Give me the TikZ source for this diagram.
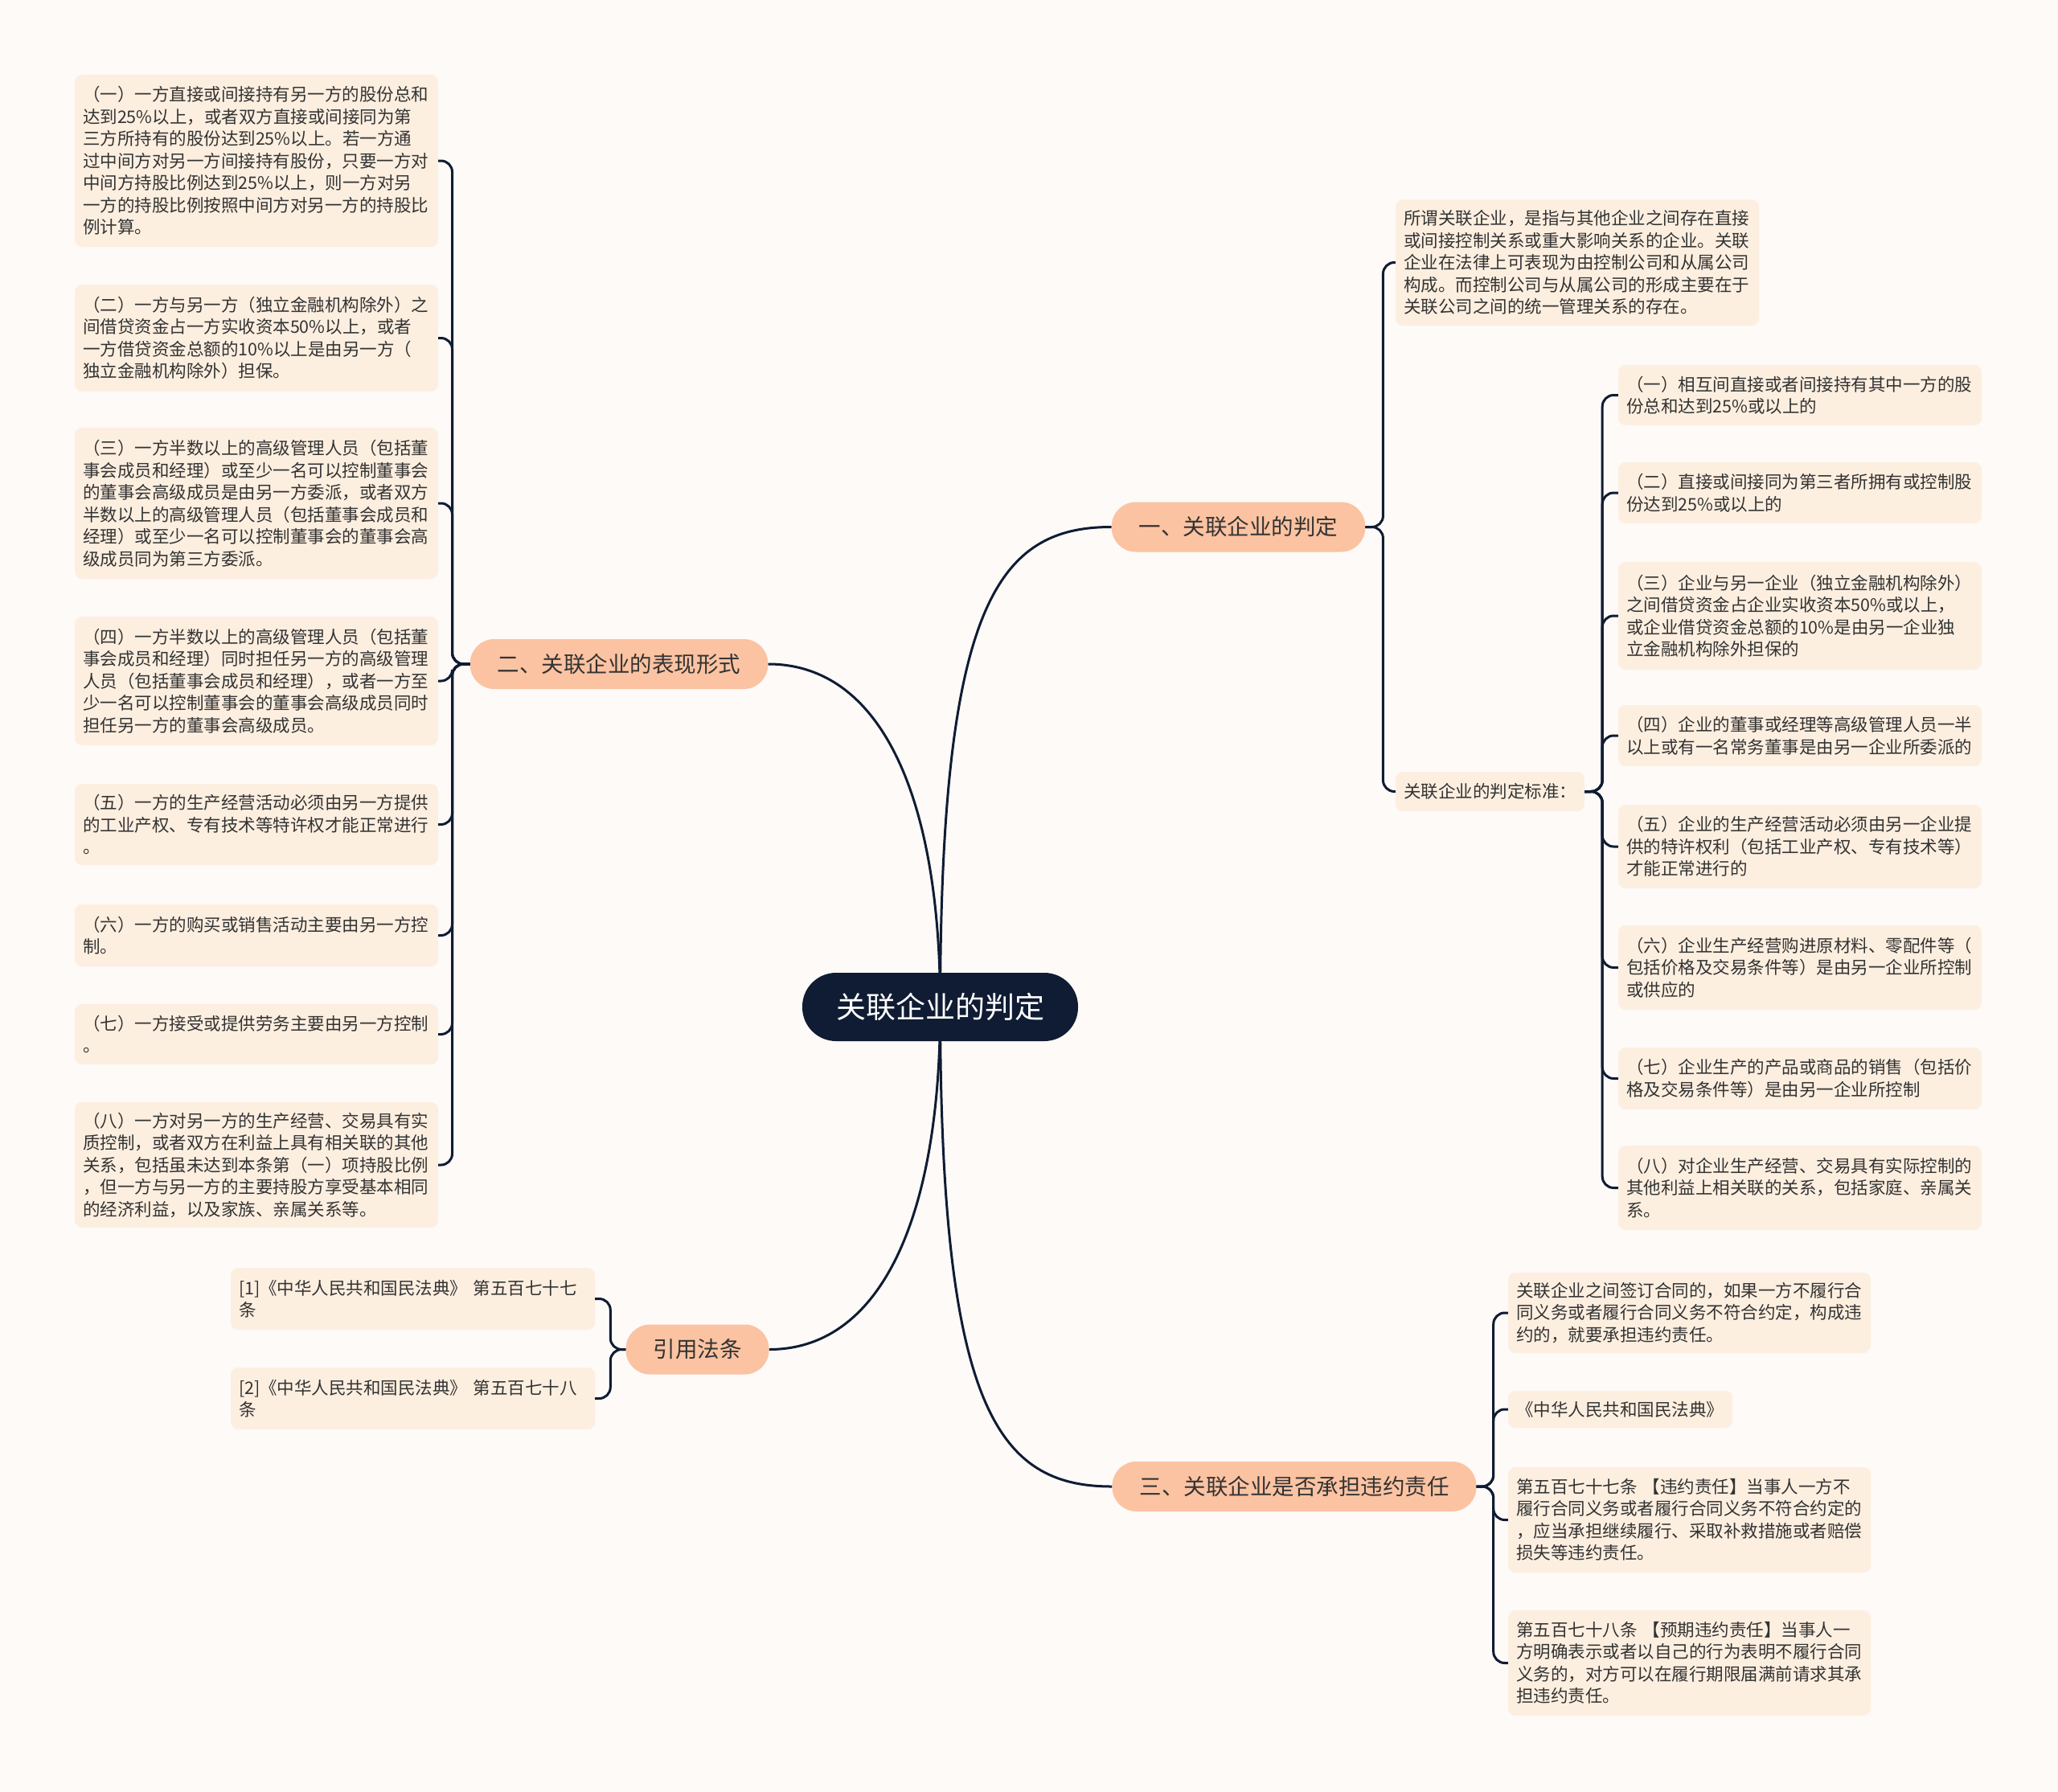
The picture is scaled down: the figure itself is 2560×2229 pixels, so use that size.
\documentclass[tikz,border=0pt]{standalone}
\usepackage{fontspec}
\setmainfont{Noto Sans CJK SC}
\definecolor{bgc}{HTML}{FDFAF8}
\definecolor{leafc}{HTML}{FDEFE0}
\definecolor{brc}{HTML}{FBC3A2}
\definecolor{rootc}{HTML}{0F1C33}
\definecolor{linec}{HTML}{0F1C33}
\definecolor{txtc}{HTML}{333333}
\pgfdeclarelayer{bg}
\pgfsetlayers{bg,main}
\newcommand{\leaffont}{\fontsize{21.5pt}{27.5pt}\selectfont}
\newcommand{\brfont}{\fontsize{27.5pt}{32pt}\selectfont}
\newcommand{\rootfont}{\fontsize{37pt}{42pt}\selectfont}
\tikzset{
  leaf/.style={fill=leafc, rounded corners=9pt, inner xsep=10pt, inner ysep=0pt, align=left, text=txtc, font=\leaffont, anchor=center},
  pill/.style={fill=brc, rounded corners=30pt, minimum height=62pt, inner xsep=34pt, inner ysep=0pt, text=txtc, font=\brfont, anchor=center},
  rootbox/.style={fill=rootc, rounded corners=42pt, minimum height=85pt, inner xsep=42pt, inner ysep=0pt, text=white, font=\rootfont, anchor=center},
  conn/.style={draw=linec, line width=3pt},
  brk/.style={draw=linec, line width=3pt, rounded corners=14pt}
}
\begin{document}
\begin{tikzpicture}[x=1pt,y=-1pt]
\useasboundingbox (0,0) rectangle (2560,2229);
\begin{pgfonlayer}{bg}
\fill[bgc] (0,0) rectangle (2560,2229);
\end{pgfonlayer}

% root and branches
\node[rootbox] (root) at (1169.5,1252.5) {关联企业的判定};
\node[pill] (b1) at (1540.5,655.5) {一、关联企业的判定};
\node[pill] (b2) at (770,826) {二、关联企业的表现形式};
\node[pill] (b3) at (867.5,1678.5) {引用法条};
\node[pill] (b4) at (1610,1849) {三、关联企业是否承担违约责任};

% left leaves
\node[leaf, text width=432pt, minimum height=214pt] (l1) at (319,200) {（一）一方直接或间接持有另一方的股份总和\\达到25\%以上，或者双方直接或间接同为第\\三方所持有的股份达到25\%以上。若一方通\\过中间方对另一方间接持有股份，只要一方对\\中间方持股比例达到25\%以上，则一方对另\\一方的持股比例按照中间方对另一方的持股比\\例计算。};
\node[leaf, text width=432pt, minimum height=133pt] (l2) at (319,420.5) {（二）一方与另一方（独立金融机构除外）之\\间借贷资金占一方实收资本50\%以上，或者\\一方借贷资金总额的10\%以上是由另一方（\\独立金融机构除外）担保。};
\node[leaf, text width=432pt, minimum height=188pt] (l3) at (319,626) {（三）一方半数以上的高级管理人员（包括董\\事会成员和经理）或至少一名可以控制董事会\\的董事会高级成员是由另一方委派，或者双方\\半数以上的高级管理人员（包括董事会成员和\\经理）或至少一名可以控制董事会的董事会高\\级成员同为第三方委派。};
\node[leaf, text width=432pt, minimum height=160pt] (l4) at (319,847) {（四）一方半数以上的高级管理人员（包括董\\事会成员和经理）同时担任另一方的高级管理\\人员（包括董事会成员和经理），或者一方至\\少一名可以控制董事会的董事会高级成员同时\\担任另一方的董事会高级成员。};
\node[leaf, text width=432pt, minimum height=101pt] (l5) at (319,1025.5) {（五）一方的生产经营活动必须由另一方提供\\的工业产权、专有技术等特许权才能正常进行\\。};
\node[leaf, text width=432pt, minimum height=77pt] (l6) at (319,1163.5) {（六）一方的购买或销售活动主要由另一方控\\制。};
\node[leaf, text width=432pt, minimum height=75pt] (l7) at (319,1286.5) {（七）一方接受或提供劳务主要由另一方控制\\。};
\node[leaf, text width=432pt, minimum height=156pt] (l8) at (319,1449) {（八）一方对另一方的生产经营、交易具有实\\质控制，或者双方在利益上具有相关联的其他\\关系，包括虽未达到本条第（一）项持股比例\\，但一方与另一方的主要持股方享受基本相同\\的经济利益，以及家族、亲属关系等。};

% citations
\node[leaf, text width=433pt, minimum height=77pt] (c1) at (513.5,1615.5) {[1]《中华人民共和国民法典》 第五百七十七\\条};
\node[leaf, text width=433pt, minimum height=77pt] (c2) at (513.5,1739.5) {[2]《中华人民共和国民法典》 第五百七十八\\条};

% right: branch 1
\node[leaf, text width=432pt, minimum height=157pt] (r0) at (1962,326.5) {所谓关联企业，是指与其他企业之间存在直接\\或间接控制关系或重大影响关系的企业。关联\\企业在法律上可表现为由控制公司和从属公司\\构成。而控制公司与从属公司的形成主要在于\\关联公司之间的统一管理关系的存在。};
\node[leaf, text width=215pt, minimum height=49pt] (std) at (1853.5,984.5) {关联企业的判定标准：};

\node[leaf, text width=432pt, minimum height=75pt] (s1) at (2239,491.5) {（一）相互间直接或者间接持有其中一方的股\\份总和达到25\%或以上的};
\node[leaf, text width=432pt, minimum height=76pt] (s2) at (2239,613) {（二）直接或间接同为第三者所拥有或控制股\\份达到25\%或以上的};
\node[leaf, text width=432pt, minimum height=134pt] (s3) at (2239,766) {（三）企业与另一企业（独立金融机构除外）\\之间借贷资金占企业实收资本50\%或以上，\\或企业借贷资金总额的10\%是由另一企业独\\立金融机构除外担保的};
\node[leaf, text width=432pt, minimum height=76pt] (s4) at (2239,915) {（四）企业的董事或经理等高级管理人员一半\\以上或有一名常务董事是由另一企业所委派的};
\node[leaf, text width=432pt, minimum height=104pt] (s5) at (2239,1053) {（五）企业的生产经营活动必须由另一企业提\\供的特许权利（包括工业产权、专有技术等）\\才能正常进行的};
\node[leaf, text width=432pt, minimum height=105pt] (s6) at (2239,1203.5) {（六）企业生产经营购进原材料、零配件等（\\包括价格及交易条件等）是由另一企业所控制\\或供应的};
\node[leaf, text width=432pt, minimum height=77pt] (s7) at (2239,1341.5) {（七）企业生产的产品或商品的销售（包括价\\格及交易条件等）是由另一企业所控制};
\node[leaf, text width=432pt, minimum height=105pt] (s8) at (2239,1477.5) {（八）对企业生产经营、交易具有实际控制的\\其他利益上相关联的关系，包括家庭、亲属关\\系。};

% right: branch 3
\node[leaf, text width=431pt, minimum height=100pt] (t1) at (2101.5,1633) {关联企业之间签订合同的，如果一方不履行合\\同义务或者履行合同义务不符合约定，构成违\\约的，就要承担违约责任。};
\node[leaf, text width=259pt, minimum height=46pt] (t2) at (2015.5,1753) {《中华人民共和国民法典》};
\node[leaf, text width=431pt, minimum height=131pt] (t3) at (2101.5,1890.5) {第五百七十七条 【违约责任】当事人一方不\\履行合同义务或者履行合同义务不符合约定的\\，应当承担继续履行、采取补救措施或者赔偿\\损失等违约责任。};
\node[leaf, text width=431pt, minimum height=131pt] (t4) at (2101.5,2068.5) {第五百七十八条 【预期违约责任】当事人一\\方明确表示或者以自己的行为表明不履行合同\\义务的，对方可以在履行期限届满前请求其承\\担违约责任。};

\begin{pgfonlayer}{bg}
% root connectors
\draw[conn] (root.center) .. controls (1170,754) and (1240,655.5) .. (b1.west);
\draw[conn] (root.center) .. controls (1170,1000) and (1100,826) .. (b2.east);
\draw[conn] (root.center) .. controls (1170,1505) and (1100,1678.5) .. (b3.west -| b3.east);
\draw[conn] (root.center) .. controls (1170,1750) and (1240,1849) .. (b4.west);
\end{pgfonlayer}

% brackets
\foreach \c in {l1,l2,l3,l4,l5,l6,l7,l8}
  \draw[brk] (b2.west) -- ++(-22,0) |- (\c.east);
\foreach \c in {r0,std}
  \draw[brk] (b1.east) -- ++(22,0) |- (\c.west);
\foreach \c in {s1,s2,s3,s4,s5,s6,s7,s8}
  \draw[brk] (std.east) -- ++(22,0) |- (\c.west);
\foreach \c in {c1,c2}
  \draw[brk] (b3.west) -- ++(-19,0) |- (\c.east);
\foreach \c in {t1,t2,t3,t4}
  \draw[brk] (b4.east) -- ++(21,0) |- (\c.west);
\end{tikzpicture}
\end{document}
